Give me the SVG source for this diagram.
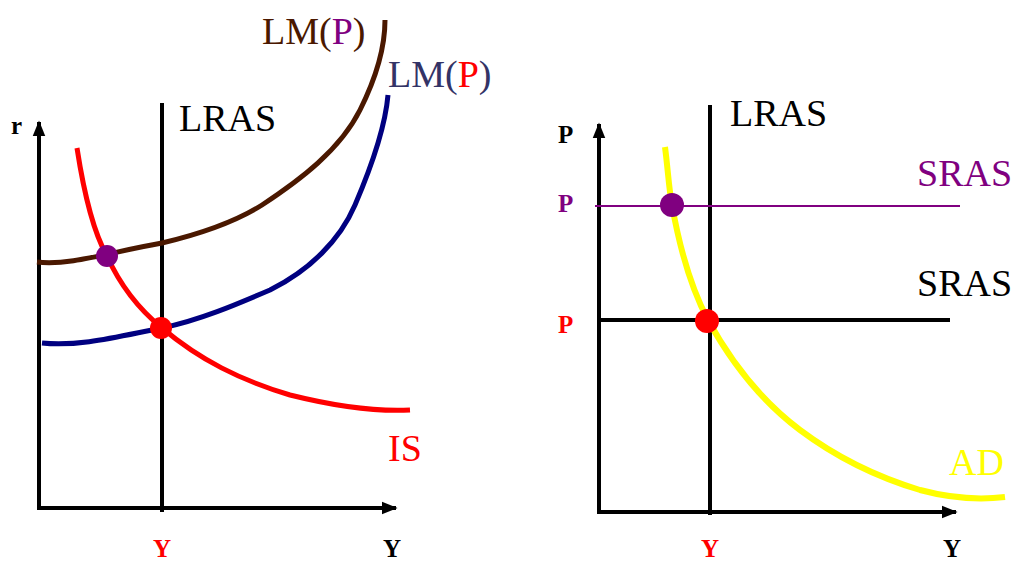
<svg xmlns="http://www.w3.org/2000/svg" width="1016" height="563" viewBox="0 0 1016 563" font-family="'Liberation Serif', 'DejaVu Serif', serif">
<defs>
<marker id="arr" viewBox="0 0 10 10" refX="9" refY="5" markerWidth="4" markerHeight="4" orient="auto" markerUnits="strokeWidth"><path d="M0,1 L10,5 L0,9 z" fill="#000"/></marker>
<style>
text{font-family:'Liberation Serif','DejaVu Serif',serif}
.ax{stroke:#000;stroke-width:4;fill:none}
.big{font-size:38px}
.sm{font-size:25px;font-weight:bold}
</style>
</defs>
<g id="left-chart">
<g id="left-axes">
<path class="ax" d="M39,508 L39,122" marker-end="url(#arr)"/>
<path class="ax" d="M37,508 L396,508" marker-end="url(#arr)"/>
<text class="sm" x="11" y="134" fill="#000">r</text>
<text class="sm" x="392" y="557" text-anchor="middle" fill="#000">Y</text>
<text class="sm" x="162" y="557" text-anchor="middle" fill="#f00">Y</text>
</g>
<g id="left-lras">
<line x1="162" y1="103" x2="162" y2="512" stroke="#000" stroke-width="4"/>
<text class="big" x="179" y="131" fill="#000">LRAS</text>
</g>
<g id="connectors-left">
<path d="M37,262 C70,266 110,252 162,243 C200,234 235,222 262,205 C300,180 340,150 360,110 C375,80 385,50 385,20" stroke="#4a1800" stroke-width="5" fill="none"/>
<path d="M42,343 C80,347 120,336 162,328 C200,320 235,305 270,290 C310,270 340,240 355,205 C370,170 385,130 388,95" stroke="#000080" stroke-width="5" fill="none"/>
<path d="M77,148 C85,200 95,235 107,256 C120,285 140,310 162,328 C200,360 240,380 290,395 C330,405 370,412 410,410" stroke="#f00" stroke-width="5" fill="none"/>
</g>
<g id="left-labels">
<text class="big" x="262" y="44" fill="#4a1800">LM(<tspan fill="#800080">P</tspan>)</text>
<text class="big" x="388" y="87" fill="#333366">LM(<tspan fill="#f00">P</tspan>)</text>
<text class="big" x="388" y="461" fill="#f00">IS</text>
</g>
<g id="left-dots">
<circle cx="107" cy="256" r="11" fill="#800080"/>
<circle cx="161" cy="328" r="11" fill="#f00"/>
</g>
</g>
<g id="right-chart">
<g id="right-axes">
<path class="ax" d="M599,512 L599,124" marker-end="url(#arr)"/>
<path class="ax" d="M597,512 L956,512" marker-end="url(#arr)"/>
<text class="sm" x="558" y="143" fill="#000">P</text>
<text class="sm" x="558" y="212" fill="#800080">P</text>
<text class="sm" x="558" y="333" fill="#f00">P</text>
<text class="sm" x="952" y="557" text-anchor="middle" fill="#000">Y</text>
<text class="sm" x="710" y="557" text-anchor="middle" fill="#f00">Y</text>
</g>
<g id="right-lras">
<line x1="710" y1="105" x2="710" y2="515" stroke="#000" stroke-width="4"/>
<text class="big" x="730" y="126" fill="#000">LRAS</text>
</g>
<g id="sras-purple">
<line x1="595" y1="206" x2="960" y2="206" stroke="#800080" stroke-width="2"/>
<text class="big" x="917" y="186" fill="#800080">SRAS</text>
</g>
<g id="sras-black">
<line x1="600" y1="320" x2="950" y2="320" stroke="#000" stroke-width="4"/>
<text class="big" x="917" y="296" fill="#000">SRAS</text>
</g>
<g id="ad">
<path d="M665,147 C668,170 669,190 672,205 C680,250 692,290 708,320 C730,360 760,400 800,430 C840,460 880,478 920,490 C950,498 980,500 1005,497" stroke="#ff0" stroke-width="6" fill="none"/>
<text class="big" x="949" y="475" fill="#ff0">AD</text>
</g>
<g id="right-dots">
<circle cx="672" cy="205" r="12" fill="#800080"/>
<circle cx="707" cy="321" r="12" fill="#f00"/>
</g>
</g>
</svg>
